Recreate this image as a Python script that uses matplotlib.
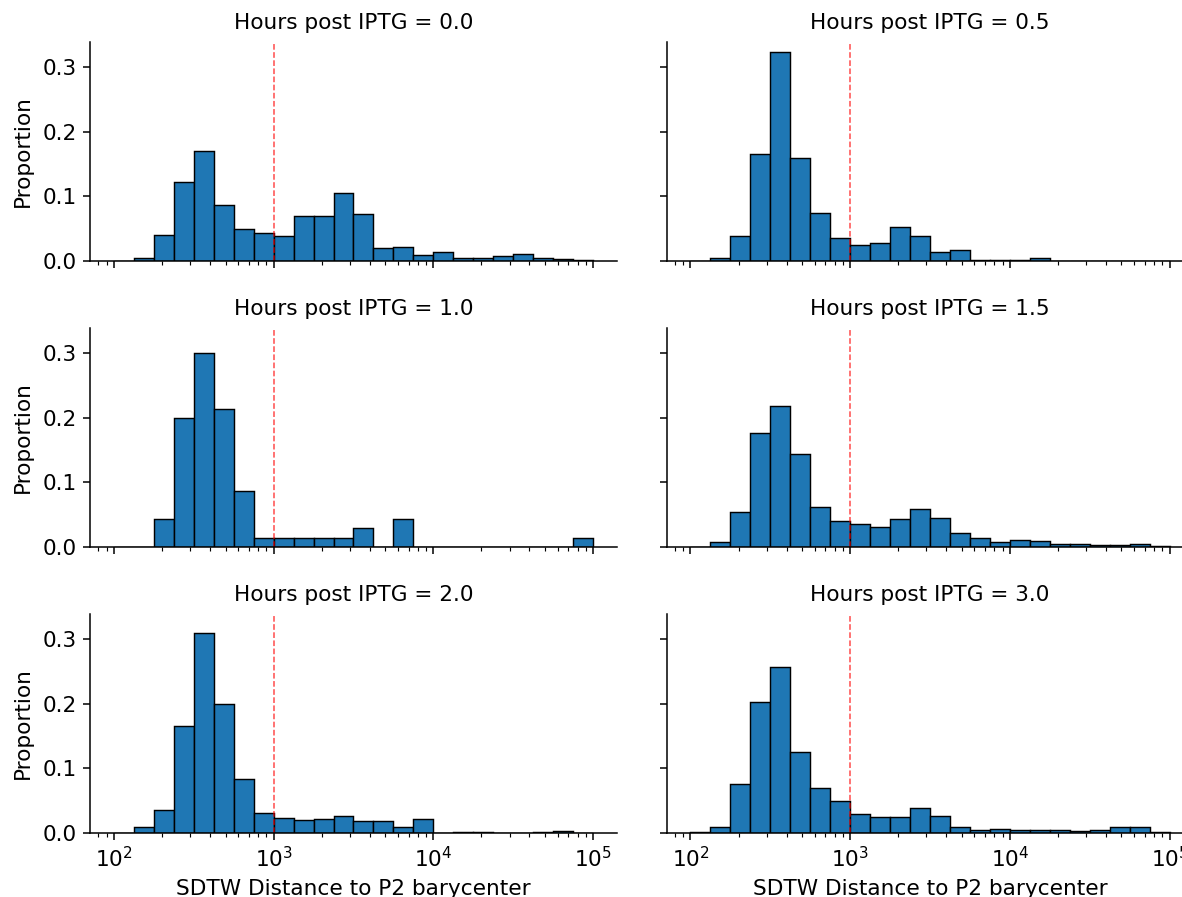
import numpy as np
import matplotlib
matplotlib.use("Agg")
import matplotlib.pyplot as plt

# log spaced bins, 8 per decade from 1e2 to 1e5
edges = np.logspace(2, 5, 25)

hours = ["0.0", "0.5", "1.0", "1.5", "2.0", "3.0"]

p_00 = [0.0, 0.005, 0.041, 0.122, 0.170, 0.087, 0.050, 0.044, 0.038, 0.070, 0.070, 0.106,
        0.073, 0.020, 0.022, 0.010, 0.014, 0.005, 0.004, 0.007, 0.011, 0.005, 0.003, 0.001]
p_05 = [0.0, 0.005, 0.039, 0.166, 0.323, 0.160, 0.074, 0.036, 0.025, 0.028, 0.053, 0.039,
        0.014, 0.017, 0.002, 0.002, 0.002, 0.005, 0.0, 0.0, 0.0, 0.0, 0.0, 0.0]
p_10 = [0.0, 0.0, 0.043, 0.200, 0.300, 0.214, 0.086, 0.014, 0.014, 0.014, 0.014, 0.014,
        0.029, 0.0, 0.043, 0.0, 0.0, 0.0, 0.0, 0.0, 0.0, 0.0, 0.0, 0.014]
p_15 = [0.0, 0.007, 0.054, 0.177, 0.218, 0.144, 0.062, 0.040, 0.036, 0.031, 0.043, 0.059,
        0.045, 0.021, 0.014, 0.008, 0.011, 0.009, 0.005, 0.004, 0.003, 0.003, 0.004, 0.001]
p_20 = [0.0, 0.010, 0.035, 0.165, 0.309, 0.199, 0.084, 0.031, 0.024, 0.020, 0.022, 0.027,
        0.018, 0.018, 0.009, 0.021, 0.0, 0.0015, 0.0015, 0.0, 0.0, 0.0015, 0.003, 0.0]
p_30 = [0.001, 0.010, 0.076, 0.203, 0.257, 0.126, 0.069, 0.049, 0.029, 0.025, 0.025, 0.038,
        0.027, 0.010, 0.004, 0.006, 0.004, 0.004, 0.005, 0.003, 0.005, 0.010, 0.010, 0.001]
props = [p_00, p_05, p_10, p_15, p_20, p_30]

threshold = 1000

plt.rcParams["font.size"] = 11.3
plt.rcParams["axes.labelsize"] = 11.3
plt.rcParams["xtick.labelsize"] = 11.3
plt.rcParams["ytick.labelsize"] = 11.3

dpi = 138
fig, axes = plt.subplots(3, 2, sharex=True, sharey=True, figsize=(1182/dpi, 897/dpi), dpi=dpi)

W, H = 1182.0, 897.0
col_x = [90, 666.5]
row_bottom = [261, 547, 833]
aw, ah = 527, 219

for i, ax in enumerate(axes.flat):
    r, c = divmod(i, 2)
    ax.set_position([col_x[c]/W, 1 - row_bottom[r]/H, aw/W, ah/H])
    ax.hist(edges[:-1], bins=edges, weights=props[i], color="#1f77b4",
            edgecolor="black", linewidth=0.75)
    ax.set_xscale("log")
    ax.axvline(threshold, color="red", linestyle="--", linewidth=0.8, alpha=0.7)
    ax.set_title("Hours post IPTG = {}".format(hours[i]), fontsize=11.3, pad=7)
    for s in ["top", "right"]:
        ax.spines[s].set_visible(False)
    if c == 0:
        ax.set_ylabel("Proportion", labelpad=5)
    else:
        ax.tick_params(labelleft=False)
    if r == 2:
        ax.set_xlabel("SDTW Distance to P2 barycenter", labelpad=4)
    else:
        ax.tick_params(labelbottom=False)

axes[0, 0].set_yticks([0.0, 0.1, 0.2, 0.3])

fig.savefig("out.png", dpi=dpi)
